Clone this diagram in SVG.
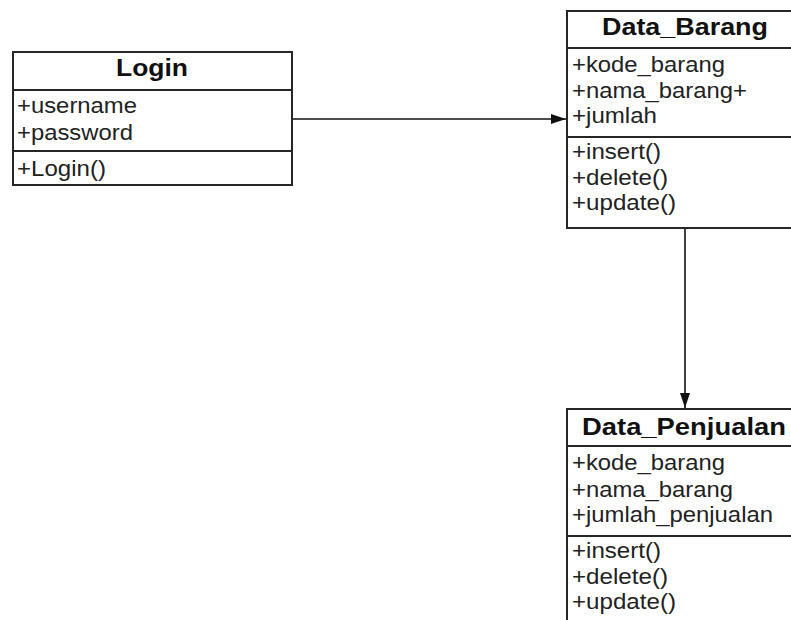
<svg xmlns="http://www.w3.org/2000/svg" width="791" height="620" viewBox="0 0 791 620">
<style>
.box{fill:#fff;stroke:#262626;stroke-width:2}
.div{stroke:#262626;stroke-width:2}
.t{font-family:"Liberation Sans",Arial,sans-serif;font-weight:bold;font-size:23px;fill:#111;text-anchor:middle}
.a{font-family:"Liberation Sans",Arial,sans-serif;font-size:22px;fill:#222}
.c{stroke:#111;stroke-width:1.6;fill:none}
</style>
<defs>
<marker id="arr" markerWidth="16" markerHeight="12" refX="15" refY="6" orient="auto" markerUnits="userSpaceOnUse">
<path d="M0,1 L15,6 L0,11 Z" fill="#111"/>
</marker>
</defs>
<rect width="791" height="620" fill="#fff"/>
<g id="connectors">
<line class="c" x1="293" y1="119" x2="566" y2="119" marker-end="url(#arr)"/>
<line class="c" x1="685" y1="229" x2="685" y2="408" marker-end="url(#arr)"/>
</g>
<g id="Login">
<rect class="box" x="13" y="52" width="279" height="133"/>
<line class="div" x1="13" y1="90" x2="292" y2="90"/>
<line class="div" x1="13" y1="151" x2="292" y2="151"/>
<text class="t" x="152" y="76" textLength="72" lengthAdjust="spacingAndGlyphs">Login</text>
<text class="a" x="17" y="113" textLength="120" lengthAdjust="spacingAndGlyphs">+username</text>
<text class="a" x="17" y="140" textLength="116" lengthAdjust="spacingAndGlyphs">+password</text>
<text class="a" x="17" y="176" textLength="89" lengthAdjust="spacingAndGlyphs">+Login()</text>
</g>
<g id="Data_Barang">
<rect class="box" x="567" y="11" width="240" height="217"/>
<line class="div" x1="567" y1="48" x2="807" y2="48"/>
<line class="div" x1="567" y1="137" x2="807" y2="137"/>
<text class="t" x="685" y="35" textLength="166" lengthAdjust="spacingAndGlyphs">Data_Barang</text>
<text class="a" x="572" y="72" textLength="153" lengthAdjust="spacingAndGlyphs">+kode_barang</text>
<text class="a" x="572" y="98" textLength="175" lengthAdjust="spacingAndGlyphs">+nama_barang+</text>
<text class="a" x="572" y="123" textLength="85" lengthAdjust="spacingAndGlyphs">+jumlah</text>
<text class="a" x="572" y="159" textLength="89" lengthAdjust="spacingAndGlyphs">+insert()</text>
<text class="a" x="572" y="185" textLength="96" lengthAdjust="spacingAndGlyphs">+delete()</text>
<text class="a" x="572" y="210" textLength="104" lengthAdjust="spacingAndGlyphs">+update()</text>
</g>
<g id="Data_Penjualan">
<rect class="box" x="567" y="409" width="240" height="240"/>
<line class="div" x1="567" y1="446" x2="807" y2="446"/>
<line class="div" x1="567" y1="536" x2="807" y2="536"/>
<text class="t" x="684" y="435" textLength="204" lengthAdjust="spacingAndGlyphs">Data_Penjualan</text>
<text class="a" x="572" y="470" textLength="153" lengthAdjust="spacingAndGlyphs">+kode_barang</text>
<text class="a" x="572" y="497" textLength="161" lengthAdjust="spacingAndGlyphs">+nama_barang</text>
<text class="a" x="572" y="522" textLength="201" lengthAdjust="spacingAndGlyphs">+jumlah_penjualan</text>
<text class="a" x="572" y="558" textLength="89" lengthAdjust="spacingAndGlyphs">+insert()</text>
<text class="a" x="572" y="584" textLength="96" lengthAdjust="spacingAndGlyphs">+delete()</text>
<text class="a" x="572" y="609" textLength="104" lengthAdjust="spacingAndGlyphs">+update()</text>
</g>
</svg>
